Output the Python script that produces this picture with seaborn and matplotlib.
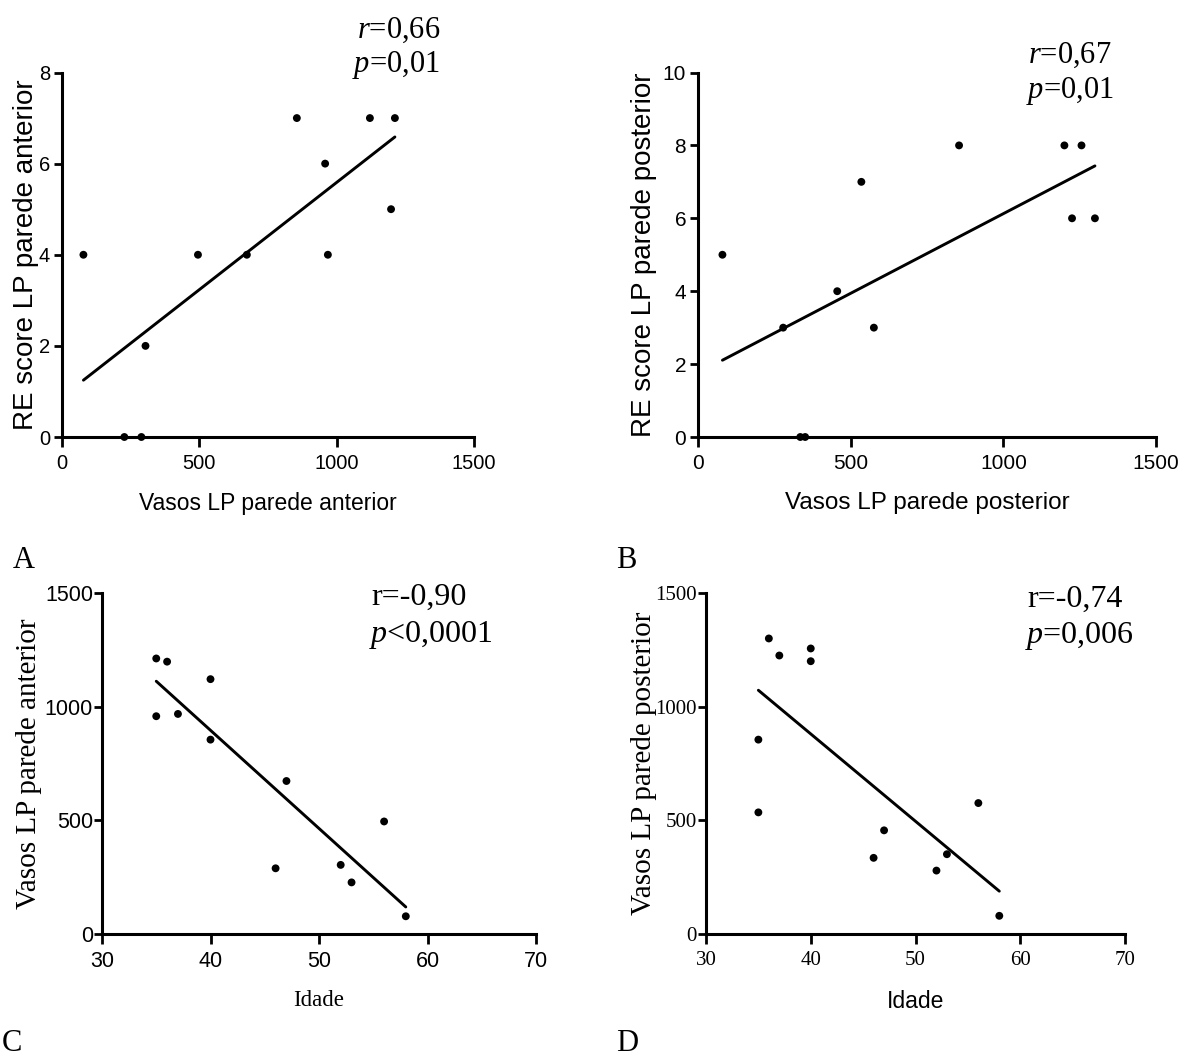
import matplotlib
matplotlib.use("Agg")
import matplotlib.pyplot as plt
import seaborn as sns
import pandas as pd

W, H = 1182, 1058

# ─── Data ─────────────────────────────────────────────────────────────────────
# parede anterior (panels A and C)
idade_ant = [35, 36, 40, 35, 37, 40, 47, 56, 46, 52, 53, 58]
vasos_ant = [1212, 1198, 1121, 958, 968, 855, 673, 495, 289, 304, 227, 78]
score_ant = [7, 5, 7, 6, 4, 7, 4, 4, 0, 2, 0, 4]

# parede posterior (panels B and D)
idade_post = [58, 52, 46, 53, 47, 35, 56, 35, 40, 37, 40, 36]
vasos_post = [80, 279, 335, 351, 456, 535, 576, 855, 1200, 1225, 1256, 1300]
score_post = [5, 3, 0, 0, 4, 7, 3, 8, 8, 6, 8, 6]

ant = pd.DataFrame({"idade": idade_ant, "vasos": vasos_ant, "score": score_ant})
post = pd.DataFrame({"idade": idade_post, "vasos": vasos_post, "score": score_post})

# ─── Style ────────────────────────────────────────────────────────────────────
sns.set_style("ticks")
SANS = "Liberation Sans"
SERIF = "Liberation Serif"

plt.rcParams["font.family"] = [SANS, "DejaVu Sans"]
plt.rcParams["mathtext.fontset"] = "custom"
plt.rcParams["mathtext.rm"] = SERIF
plt.rcParams["mathtext.it"] = SERIF + ":italic"
plt.rcParams["axes.linewidth"] = 2.2
for key in ["text.color", "axes.labelcolor", "axes.edgecolor",
            "xtick.color", "ytick.color"]:
    plt.rcParams[key] = "black"


def px_axes(fig, x0, x1, ytop, ybot):
    return fig.add_axes([x0 / W, 1 - ybot / H, (x1 - x0) / W, (ybot - ytop) / H])


def draw_panel(ax, df, x, y, xlim, ylim, xticks, yticks, ypad=3):
    sns.regplot(data=df, x=x, y=y, ax=ax, ci=None, truncate=True,
                scatter_kws=dict(s=32, color="black", alpha=1, edgecolors="none",
                                 clip_on=False, zorder=5),
                line_kws=dict(color="black", lw=2.1))
    ax.set_xlim(*xlim)
    ax.set_ylim(*ylim)
    ax.set_xticks(xticks)
    ax.set_yticks(yticks)
    sns.despine(ax=ax)
    ax.tick_params(axis="x", length=7, width=2, direction="out", pad=5)
    ax.tick_params(axis="y", length=5.5, width=2, direction="out", pad=ypad)


def style_ticks(ax, family, size):
    for lbl in ax.get_xticklabels() + ax.get_yticklabels():
        lbl.set_fontfamily(family)
        lbl.set_fontsize(size)


def label(ax, xlabel, ylabel, xfam, xsize, yfam, ysize, xpos, ypos):
    ax.set_xlabel(xlabel, fontfamily=xfam, fontsize=xsize, va="top")
    ax.set_ylabel(ylabel, fontfamily=yfam, fontsize=ysize)
    ax.xaxis.set_label_coords(0.5, xpos)
    ax.yaxis.set_label_coords(ypos, 0.5)


fig = plt.figure(figsize=(W / 100, H / 100), dpi=100)
fig.patch.set_facecolor("white")

# A ─ score vs vasos (anterior)
axA = px_axes(fig, 62, 474, 72.5, 437)
draw_panel(axA, ant, "vasos", "score", (0, 1500), (0, 8),
           [0, 500, 1000, 1500], [0, 2, 4, 6, 8])
style_ticks(axA, SANS, 14.5)
label(axA, "Vasos LP parede anterior", "RE score LP parede anterior",
      SANS, 16.5, SANS, 20, -0.15, -0.056)

# B ─ score vs vasos (posterior)
axB = px_axes(fig, 698, 1156, 72.5, 437)
draw_panel(axB, post, "vasos", "score", (0, 1500), (0, 10),
           [0, 500, 1000, 1500], [0, 2, 4, 6, 8, 10])
style_ticks(axB, SANS, 15)
label(axB, "Vasos LP parede posterior", "RE score LP parede posterior",
      SANS, 17.5, SANS, 20, -0.15, -0.09)

# C ─ vasos vs idade (anterior)
axC = px_axes(fig, 102, 536, 593, 934)
draw_panel(axC, ant, "idade", "vasos", (30, 70), (0, 1500),
           [30, 40, 50, 60, 70], [0, 500, 1000, 1500], ypad=1)
style_ticks(axC, SANS, 15.5)
label(axC, "Idade", "Vasos LP parede anterior",
      SERIF, 16.5, SERIF, 21, -0.164, -0.138)

# D ─ vasos vs idade (posterior)
axD = px_axes(fig, 706, 1125, 593, 934)
draw_panel(axD, post, "idade", "vasos", (30, 70), (0, 1500),
           [30, 40, 50, 60, 70], [0, 500, 1000, 1500], ypad=1)
style_ticks(axD, SERIF, 15)
label(axD, "Idade", "Vasos LP parede posterior",
      SANS, 16.5, SERIF, 21, -0.164, -0.117)

# ─── Statistics text ─────────────────────────────────────────────────────────
def ftext(x, y, s, size, **kw):
    fig.text(x / W, 1 - y / H, s, fontfamily=SERIF, fontsize=size,
             ha="left", va="baseline", **kw)

ftext(357, 38, r"$r$=0,66", 22)
ftext(352, 72, r"$p$=0,01", 22)
ftext(1028, 63, r"$r$=0,67", 22)
ftext(1026, 98, r"$p$=0,01", 22)
ftext(371, 605, "r=-0,90", 23)
ftext(369, 642, r"$p$<0,0001", 23)
ftext(1027, 607, "r=-0,74", 23)
ftext(1025, 643, r"$p$=0,006", 23)

# panel letters
ftext(13, 568, "A", 22)
ftext(616, 568, "B", 22)
ftext(2, 1051, "C", 22)
ftext(616, 1051, "D", 22)

fig.savefig("out.png", dpi=100, facecolor="white")
